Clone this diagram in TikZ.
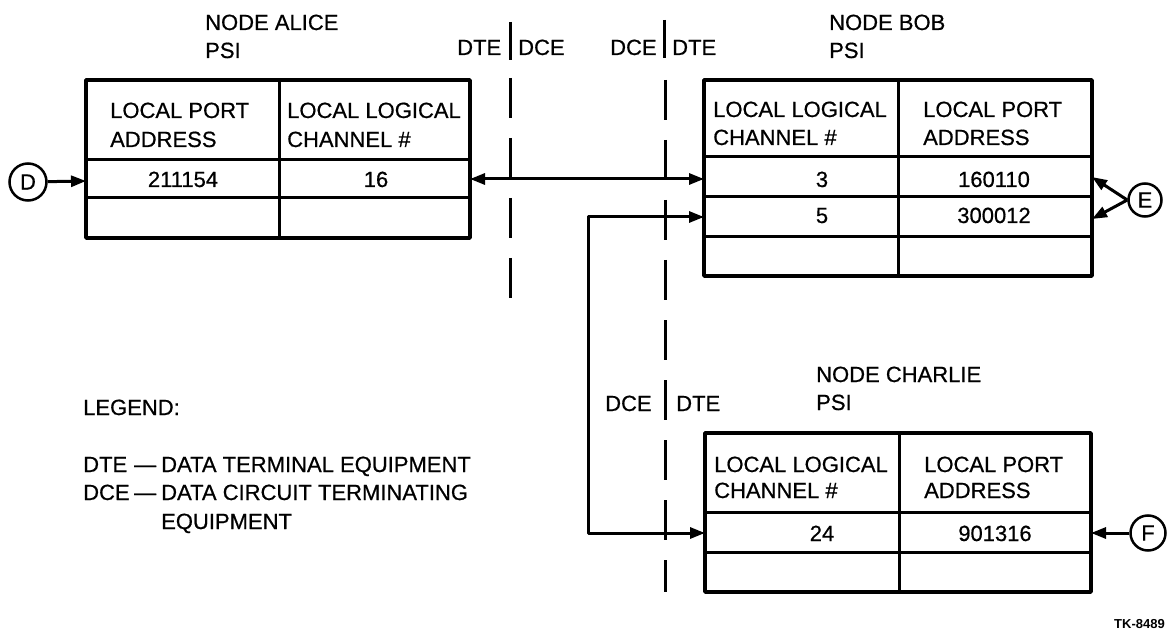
\documentclass[tikz,border=0pt]{standalone}
\usepackage{fontspec}
\setmainfont{Liberation Sans}
\newfontface\medf{Liberation Sans}[FakeBold=0.6]
\usetikzlibrary{arrows.meta}
\begin{document}
\begin{tikzpicture}[x=1pt,y=-1pt,
  txt/.style={anchor=base west, inner sep=0pt, font={\fontsize{22}{29}\medf}},
  val/.style={anchor=base, inner sep=0pt, font={\fontsize{22}{29}\medf}},
  frame/.style={line width=3.5pt, line join=round},
  grid/.style={line width=3pt},
  conn/.style={line width=3pt},
  tip/.style={-{Triangle[length=15pt,width=11pt]}},
  tips/.style={{Triangle[length=15pt,width=11pt]}-{Triangle[length=15pt,width=11pt]}},
  bound/.style={line width=3pt, dash pattern=on 40pt off 20pt},
  sep/.style={line width=3pt},
  term/.style={circle, draw, line width=2.5pt, minimum size=37pt, inner sep=0pt, font={\fontsize{22}{29}\medf}}]
\useasboundingbox (0,0) rectangle (1167,636);

% ---------- Node ALICE ----------
\node[txt] (alicet) at (205,30) {NODE ALICE};
\node[txt] (alicep) at (205,58) {PSI};
\draw[grid] (279,80) -- (279,238) (86,160) -- (470,160) (86,198) -- (470,198);
\draw[frame] (86,80) rectangle (470,238);
\node[txt] (ah1) at (110,118) {LOCAL PORT};
\node[txt] (ah2) at (110,147) {ADDRESS};
\node[txt] (ah3) at (287,118) {LOCAL LOGICAL};
\node[txt] (ah4) at (287,147) {CHANNEL \#};
\node[val] (av1) at (183,187) {211154};
\node[val] (av2) at (376,187) {16};
\coordinate (aw) at (86,181);
\coordinate (ae) at (470,179);

% ---------- Node BOB ----------
\node[txt] (bobt) at (829,30) {NODE BOB};
\node[txt] (bobp) at (829,58) {PSI};
\draw[grid] (898,80) -- (898,276) (704,157) -- (1092,157) (704,197) -- (1092,197) (704,237) -- (1092,237);
\draw[frame] (704,80) rectangle (1092,276);
\node[txt] (bh1) at (713,117) {LOCAL LOGICAL};
\node[txt] (bh2) at (713,145) {CHANNEL \#};
\node[txt] (bh3) at (923,117) {LOCAL PORT};
\node[txt] (bh4) at (923,145) {ADDRESS};
\node[val] (bv1) at (822,187) {3};
\node[val] (bv2) at (994,187) {160110};
\node[val] (bv3) at (822,223) {5};
\node[val] (bv4) at (994,223) {300012};
\coordinate (bw1) at (704,179);
\coordinate (bw2) at (704,217);
\coordinate (be1) at (1092,177);
\coordinate (be2) at (1092,219);

% ---------- Node CHARLIE ----------
\node[txt] (chat) at (816,382) {NODE CHARLIE};
\node[txt] (chap) at (816,410) {PSI};
\draw[grid] (899,433) -- (899,592) (705,512) -- (1091,512) (705,552) -- (1091,552);
\draw[frame] (705,433) rectangle (1091,592);
\node[txt] (ch1) at (714,472) {LOCAL LOGICAL};
\node[txt] (ch2) at (714,498) {CHANNEL \#};
\node[txt] (ch3) at (924,472) {LOCAL PORT};
\node[txt] (ch4) at (924,498) {ADDRESS};
\node[val] (cv1) at (822,541) {24};
\node[val] (cv2) at (995,541) {901316};
\coordinate (cw) at (705,533);
\coordinate (ce) at (1091,533);

% ---------- DTE / DCE boundaries ----------
\node[txt] (l1) at (457,55) {DTE};
\node[txt] (l2) at (518,55) {DCE};
\draw[sep] (510,22) -- (510,60);
\draw[bound] (510,78) -- (510,298);
\node[txt] (l3) at (610,55) {DCE};
\node[txt] (l4) at (672,55) {DTE};
\draw[sep] (664,20) -- (664,58);
\draw[bound] (665,80) -- (665,592);
\node[txt] (l5) at (605,411) {DCE};
\node[txt] (l6) at (676,411) {DTE};

% ---------- terminals and connectors ----------
\node[term] (D) at (28,182) {D};
\node[term, minimum size=33pt] (E) at (1145,200) {E};
\node[term, minimum size=35pt] (F) at (1148,533) {F};
\draw[conn,tip] (D) -- (aw);
\draw[conn,tips] (ae) -- (bw1);
\draw[conn,tip] (E.west) -- (be1);
\draw[conn,tip] (E.west) -- (be2);
\draw[conn,tip] (F) -- (ce);
\coordinate (k1) at (588,217);
\coordinate (k2) at (588,533);
\draw[conn,tips,line join=round] (bw2) -- (k1) -- (k2) -- (cw);

% ---------- legend ----------
\node[txt] (lg) at (83,415) {LEGEND:};
\node[txt] (lg1) at (83,472) {DTE};
\node[txt] (lg2) at (134,472) {—};
\node[txt] (lg3) at (161,472) {DATA TERMINAL EQUIPMENT};
\node[txt] (lg4) at (83,500) {DCE};
\node[txt] (lg5) at (134,500) {—};
\node[txt] (lg6) at (161,500) {DATA CIRCUIT TERMINATING};
\node[txt] (lg7) at (161,529) {EQUIPMENT};

\node[anchor=base east, inner sep=0pt, font=\fontsize{13}{15}\selectfont\bfseries] (tk) at (1165,628) {TK-8489};
\end{tikzpicture}
\end{document}
